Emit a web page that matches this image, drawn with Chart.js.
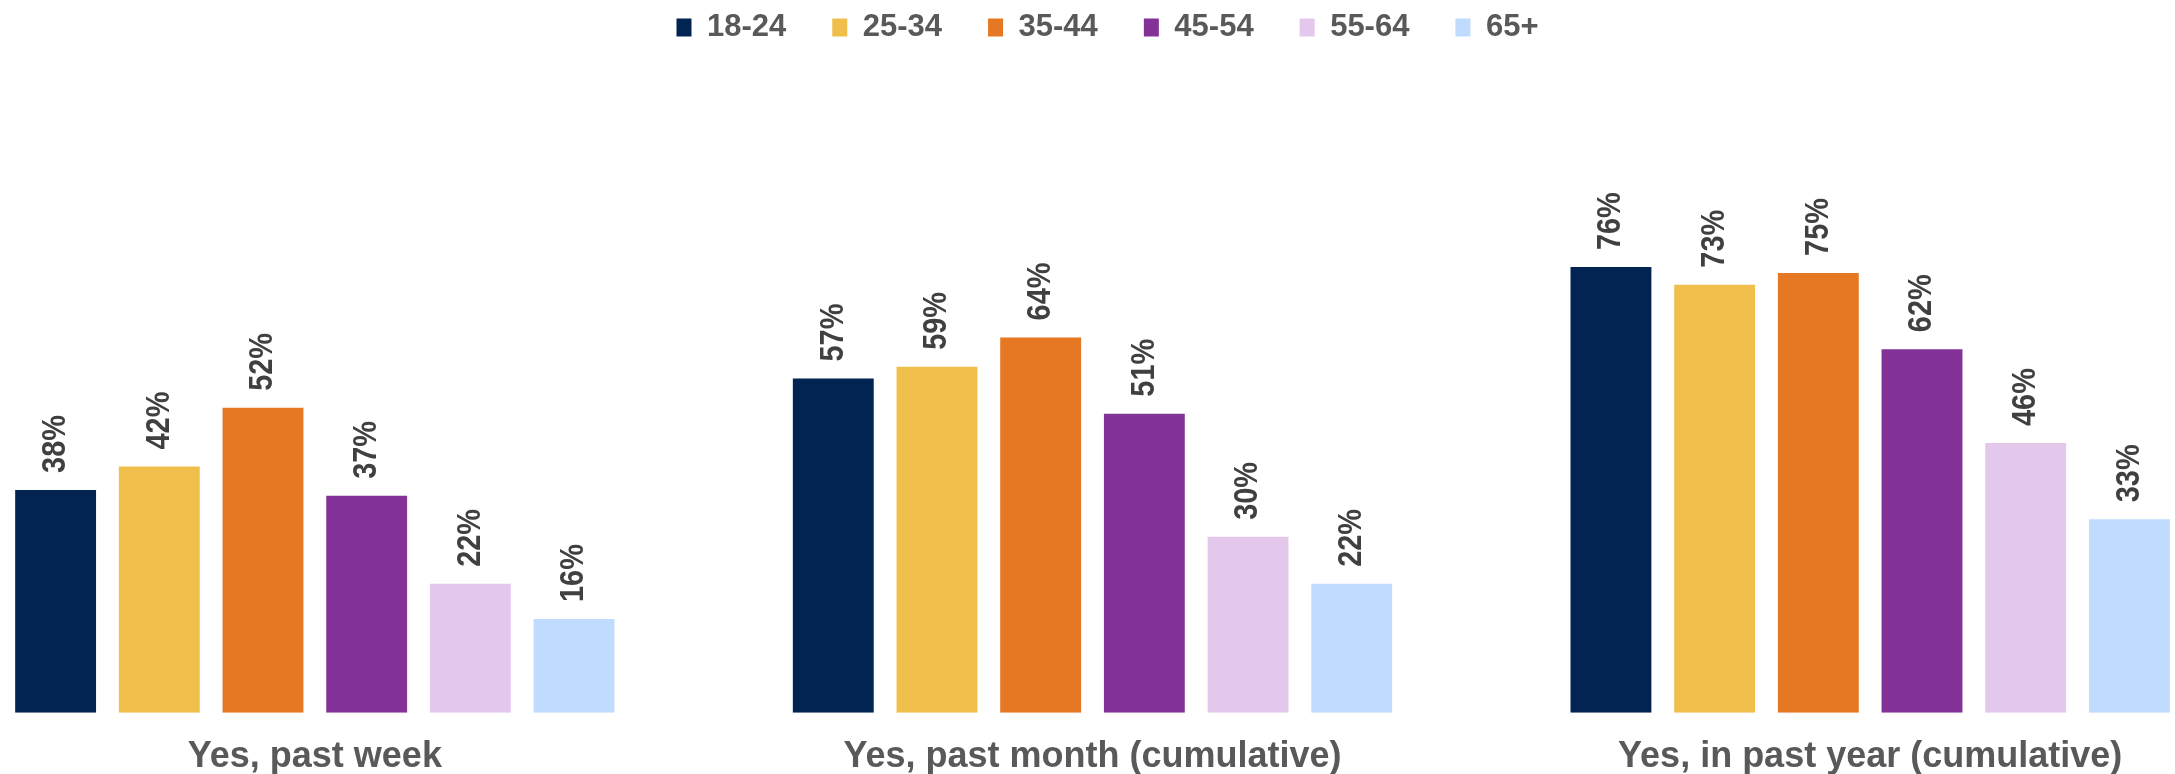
<!DOCTYPE html>
<html>
<head>
<meta charset="utf-8">
<script src="https://cdn.jsdelivr.net/npm/chart.js@4"></script>
<style>
  html, body { margin: 0; padding: 0; background: #ffffff; overflow: hidden; }
  body { width: 2175px; height: 774px; position: relative; }
  #wrap { position: absolute; left: -74px; top: 0; width: 2363px; height: 794px; }
</style>
</head>
<body>
<div id="wrap"><canvas id="chart" width="2363" height="794"></canvas></div>
<script>
// categories along the x axis
var categories = ['Yes, past week', 'Yes, past month (cumulative)', 'Yes, in past year (cumulative)'];

// age groups (one series each), values in %
var ageGroups = ['18-24', '25-34', '35-44', '45-54', '55-64', '65+'];
var age18to24 = [38, 57, 76];
var age25to34 = [42, 59, 73];
var age35to44 = [52, 64, 75];
var age45to54 = [37, 51, 62];
var age55to64 = [22, 30, 46];
var age65plus = [16, 22, 33];

var seriesValues = [age18to24, age25to34, age35to44, age45to54, age55to64, age65plus];
var seriesColors = ['#012453', '#F0BE4B', '#E67723', '#833298', '#E3C8EC', '#BFDBFE'];

var FONT = '"Liberation Sans", Arial, sans-serif';

/*
    Draws the value above each bar, turned on its side
*/
const barLabels = {
    id: 'barLabels',
    afterDatasetsDraw(chart)
    {
        var ctx = chart.ctx;
        ctx.save();
        ctx.fillStyle = '#404040';
        ctx.font = 'bold 34px ' + FONT;
        ctx.textAlign = 'left';
        ctx.textBaseline = 'middle';
        chart.data.datasets.forEach(function(ds, i) {
            chart.getDatasetMeta(i).data.forEach(function(bar, j) {
                ctx.save();
                ctx.translate(bar.x, bar.y - 17);
                ctx.rotate(-Math.PI / 2);
                ctx.scale(0.85, 1);
                ctx.fillText(ds.data[j] + '%', 0, 0);
                ctx.restore();
            });
        });
        ctx.restore();
    }
};

var datasets = [];
for (var i = 0; i < ageGroups.length; i++)
{
    datasets.push({
        label: ageGroups[i],
        data: seriesValues[i],
        backgroundColor: seriesColors[i],
        borderWidth: 0,
        categoryPercentage: 0.8,
        barPercentage: 0.78
    });
}

new Chart(document.getElementById('chart'), {
    type: 'bar',
    data: { labels: categories, datasets: datasets },
    plugins: [barLabels],
    options: {
        responsive: false,
        animation: false,
        layout: { padding: { top: -34, left: 0, right: 0, bottom: 0 } },
        plugins: {
            legend: {
                position: 'top',
                labels: {
                    boxWidth: 15,
                    boxHeight: 18,
                    padding: 46,
                    color: '#595959',
                    font: { family: FONT, size: 31, weight: 'bold' }
                }
            },
            tooltip: { enabled: false }
        },
        scales: {
            x: {
                grid: { display: false },
                border: { display: false },
                ticks: {
                    color: '#595959',
                    padding: 15,
                    font: { family: FONT, size: 36, weight: 'bold' }
                }
            },
            y: {
                position: 'right',
                min: 0,
                max: 112.5,
                grid: { display: false },
                border: { display: false },
                ticks: { display: false },
                //empty strip on the right so the legend sits a bit right of the bars' centre
                afterFit: function(scale) { scale.width = 30; }
            }
        }
    }
});
</script>
</body>
</html>
